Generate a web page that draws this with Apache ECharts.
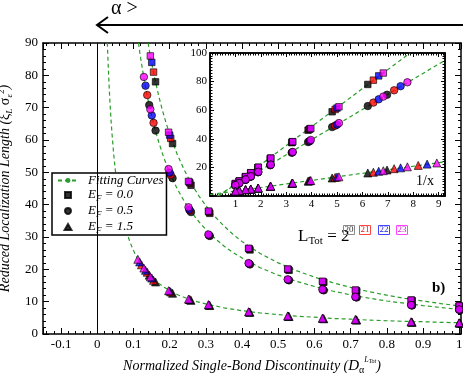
<!DOCTYPE html>
<html>
<head>
<meta charset="utf-8">
<script src="https://cdn.jsdelivr.net/npm/echarts@6/dist/echarts.min.js"></script>
<style>
html, body { margin: 0; padding: 0; background: #fff; }
#chart { width: 463px; height: 379px; }
</style>
</head>
<body>
<div id="chart"></div>
<script>
// bond discontinuity D for each system size L_Tot = 2^20 .. 2^23
var D20 = [null, 0.1435, 0.161, 0.208, 0.259, 0.311, 0.422, 0.530, 0.626, 0.717, 0.870, 1.003];
var D21 = [0.122, 0.138, 0.1555, 0.203, 0.256, 0.309, 0.420, 0.528, 0.624, 0.715, 0.869, 1.0];
var D22 = [0.117, 0.1333, 0.1506, 0.200, 0.254, 0.308, 0.419, 0.527, 0.623, 0.714, 0.868, 1.0];
var D23 = [0.112, 0.1287, 0.1466, 0.197, 0.252, 0.307, 0.418, 0.526, 0.622, 0.713, 0.867, 1.0];

// E_F = 0.0 (squares)
var sq20 = [null, null, 78.0, 58.9, 46.0, 37.3, 26.0, 19.7, 16.0, 13.3, 10.3, 8.5];
var sq21 = [null, null, 81.0, 60.5, 46.7, 37.7, 26.3, 19.9, 16.1, 13.4, 10.4, 8.6];
var sq22 = [null, null, 84.0, 61.5, 47.0, 37.9, 26.4, 20.0, 16.2, 13.5, 10.4, 8.6];
var sq23 = [null, null, 86.0, 62.4, 47.2, 38.0, 26.5, 20.1, 16.3, 13.6, 10.5, 8.7];
// E_F = 0.5 (circles)
var ci20 = [null, 70.8, 62.9, 48.2, 37.7, 30.3, 21.5, 16.6, 13.5, 11.3, 8.8, 7.4];
var ci21 = [null, 73.9, 65.3, 49.2, 38.2, 30.5, 21.7, 16.7, 13.6, 11.4, 8.9, 7.5];
var ci22 = [null, 76.8, 67.6, 49.9, 38.5, 30.6, 21.8, 16.8, 13.7, 11.4, 8.9, 7.5];
var ci23 = [null, 79.5, 69.5, 51.0, 39.2, 30.8, 21.9, 16.9, 13.8, 11.5, 9.0, 7.6];
// E_F = 1.5 (triangles)
var tr20 = [null, 18.2, 16.1, 12.6, 10.4, 8.8, 6.7, 5.4, 4.7, 4.3, 3.6, 3.3];
var tr21 = [21.4, 19.1, 16.6, 13.0, 10.6, 8.9, 6.8, 5.5, 4.8, 4.4, 3.7, 3.4];
var tr22 = [22.3, 19.7, 17.3, 13.3, 10.7, 9.0, 6.8, 5.5, 4.8, 4.4, 3.7, 3.4];
var tr23 = [23.1, 20.4, 17.7, 13.4, 10.8, 9.1, 6.9, 5.6, 4.9, 4.5, 3.8, 3.5];

// fitting curves
var fitSqD = [0.1404, 0.145, 0.15, 0.155, 0.16, 0.17, 0.18, 0.19, 0.2, 0.22, 0.24, 0.26, 0.28, 0.3, 0.325, 0.35, 0.375, 0.4, 0.45, 0.5, 0.55, 0.6, 0.65, 0.7, 0.75, 0.8, 0.85, 0.9, 0.95, 1.0, 1.005];
var fitSqY = [90.0, 87.0, 84.0, 81.1, 78.4, 73.5, 69.2, 65.3, 61.8, 55.8, 50.8, 46.5, 42.8, 39.7, 36.3, 33.4, 30.8, 28.6, 24.9, 22.0, 19.6, 17.6, 15.9, 14.4, 13.1, 12.0, 11.0, 10.2, 9.4, 8.7, 8.63];
var fitCiD = [0.1138, 0.117, 0.12, 0.125, 0.13, 0.135, 0.14, 0.15, 0.16, 0.17, 0.18, 0.19, 0.2, 0.22, 0.24, 0.26, 0.28, 0.3, 0.325, 0.35, 0.375, 0.4, 0.45, 0.5, 0.55, 0.6, 0.65, 0.7, 0.75, 0.8, 0.85, 0.9, 0.95, 1.0, 1.005];
var fitCiY = [90.0, 87.4, 85.2, 81.7, 78.4, 75.4, 72.6, 67.6, 63.1, 59.3, 55.8, 52.7, 49.9, 45.1, 41.1, 37.7, 34.8, 32.3, 29.6, 27.2, 25.2, 23.5, 20.5, 18.2, 16.3, 14.7, 13.3, 12.1, 11.1, 10.2, 9.5, 8.8, 8.2, 7.6, 7.55];
var fitTrD = [0.0278, 0.029, 0.03, 0.0325, 0.035, 0.0375, 0.04, 0.045, 0.05, 0.055, 0.06, 0.065, 0.07, 0.075, 0.08, 0.09, 0.1, 0.11, 0.12, 0.13, 0.14, 0.15, 0.16, 0.18, 0.2, 0.225, 0.25, 0.275, 0.3, 0.35, 0.4, 0.45, 0.5, 0.55, 0.6, 0.65, 0.7, 0.75, 0.8, 0.85, 0.9, 0.95, 1.0, 1.005];
var fitTrY = [90.1, 86.4, 83.5, 77.2, 71.7, 67.0, 62.9, 56.0, 50.5, 46.0, 42.3, 39.1, 36.4, 34.0, 32.0, 28.5, 25.8, 23.5, 21.7, 20.1, 18.7, 17.5, 16.5, 14.8, 13.4, 12.0, 10.9, 10.0, 9.3, 8.1, 7.2, 6.5, 6.0, 5.5, 5.2, 4.8, 4.6, 4.3, 4.1, 3.9, 3.8, 3.6, 3.5, 3.49];

// inset fitting lines (vs 1/x)
var inFitSqX = [0.345, 7.875], inFitSqY = [0, 100];
var inFitCiX = [0.282, 9.25], inFitCiY = [0, 94.9];
var inFitTrX = [0, 9.25], inFitTrY = [1.03, 23.9];

var SERIF = '"Liberation Serif", "DejaVu Serif", serif';
var GREEN = '#2a9d2a';

var chart = echarts.init(document.getElementById('chart'));

function pairs(xs, ys, inv) {
	var out = [];
	for (var i = 0; i < xs.length; i++) {
		if (xs[i] == null || ys[i] == null) continue;
		out.push([inv ? 1 / xs[i] : xs[i], ys[i]]);
	}
	return out;
}

function axis(o) {
	var base = {
		type: 'value',
		axisLine: { show: true, onZero: false, lineStyle: { color: '#000', width: 1.5 } },
		axisTick: { show: true, inside: true, length: 6, lineStyle: { color: '#000', width: 1 } },
		minorTick: { show: true, splitNumber: 5, length: 3, lineStyle: { color: '#000', width: 1 } },
		splitLine: { show: false },
		axisLabel: { show: true, color: '#000', fontFamily: SERIF, fontSize: 13, margin: 5, showMinLabel: true, showMaxLabel: true }
	};
	for (var k in o) {
		if (typeof o[k] === 'object' && base[k] && !Array.isArray(o[k])) {
			for (var j in o[k]) base[k][j] = o[k][j];
		} else base[k] = o[k];
	}
	return base;
}

var subRich = {
	i: { fontFamily: SERIF, fontSize: 14, fontStyle: 'italic', color: '#000' },
	g: { fontFamily: SERIF, fontSize: 14, fontStyle: 'normal', color: '#000' },
	s: { fontFamily: SERIF, fontSize: 9, fontStyle: 'italic', color: '#000', padding: [8, 0, 0, 0] },
	sg: { fontFamily: SERIF, fontSize: 10, fontStyle: 'normal', color: '#000', padding: [8, 0, 0, 0] },
	p: { fontFamily: SERIF, fontSize: 9, fontStyle: 'normal', color: '#000', padding: [0, 0, 8, 0] },
	pi: { fontFamily: SERIF, fontSize: 8, fontStyle: 'italic', color: '#000', padding: [0, 0, 12, 0] },
	pq: { fontFamily: SERIF, fontSize: 6, fontStyle: 'italic', color: '#000', padding: [0, 0, 8, 0] },
	d: { fontFamily: SERIF, fontSize: 15, fontStyle: 'italic', color: '#000' }
};

var xAxes = [
	axis({ gridIndex: 0, min: -0.15, max: 1.005, splitNumber: 11, position: 'bottom',
		axisLabel: { showMinLabel: false, showMaxLabel: false, margin: 4 },
		name: '{i|Normalized Single-Bond Discontinuity (}{d|D}{sg|α}{pi|L}{pq|Tot}{i|)}',
		nameLocation: 'middle', nameGap: 18, nameTextStyle: { rich: subRich } }),
	axis({ gridIndex: 0, min: -0.15, max: 1.005, splitNumber: 11, position: 'top', axisLabel: { show: false } }),
	axis({ gridIndex: 1, min: 0, max: 9.25, interval: 1, position: 'bottom',
		axisTick: { length: 4 }, minorTick: { splitNumber: 10, length: 2.5 },
		axisLabel: { showMinLabel: false, showMaxLabel: false, fontSize: 11, margin: 3 } }),
	axis({ gridIndex: 1, min: 0, max: 9.25, interval: 1, position: 'top',
		axisTick: { length: 4 }, minorTick: { splitNumber: 10, length: 2.5 }, axisLabel: { show: false } })
];
var yAxes = [
	axis({ gridIndex: 0, min: 0, max: 90, interval: 10, position: 'left',
		name: '{i|Reduced Localization Length (}{g|ξ}{s|L}{g| σ}{s|ε}{p|2}{i|)}',
		nameLocation: 'middle', nameGap: 24, nameTextStyle: { rich: subRich } }),
	axis({ gridIndex: 0, min: 0, max: 90, interval: 10, position: 'right', axisLabel: { show: false } }),
	axis({ gridIndex: 1, min: 0, max: 100, interval: 20, position: 'left',
		axisTick: { length: 4 }, minorTick: { splitNumber: 10, length: 2.5 },
		axisLabel: { showMinLabel: false, fontSize: 11, margin: 3 } }),
	axis({ gridIndex: 1, min: 0, max: 100, interval: 20, position: 'right',
		axisTick: { length: 4 }, minorTick: { splitNumber: 10, length: 2.5 }, axisLabel: { show: false } })
];

function fitLine(name, data, xi, yi) {
	return {
		name: name, type: 'line', xAxisIndex: xi, yAxisIndex: yi, data: data,
		symbol: 'none', smooth: false, silent: true,
		lineStyle: { color: GREEN, width: 1.2, type: [4, 3] },
		itemStyle: { color: GREEN }, z: 2
	};
}

var series = [
	fitLine('Fitting Curves', pairs(fitSqD, fitSqY), 0, 0),
	fitLine('Fitting Curves', pairs(fitCiD, fitCiY), 0, 0),
	fitLine('Fitting Curves', pairs(fitTrD, fitTrY), 0, 0),
	fitLine('fitInset', pairs(inFitSqX, inFitSqY), 2, 2),
	fitLine('fitInset', pairs(inFitCiX, inFitCiY), 2, 2),
	fitLine('fitInset', pairs(inFitTrX, inFitTrY), 2, 2)
];
series[0].markLine = {
	silent: true, symbol: ['none', 'none'], label: { show: false },
	lineStyle: { color: '#000', type: 'solid', width: 1 },
	data: [{ xAxis: 0 }]
};

var sizes = [['L20', D20, '#000000'], ['L21', D21, '#ff0000'], ['L22', D22, '#0000ff'], ['L23', D23, '#ff00ff']];
var groups = [
	{ key: 'ef00', sym: 'rect', size: 6.5, ys: [sq20, sq21, sq22, sq23] },
	{ key: 'ef05', sym: 'circle', size: 7.5, ys: [ci20, ci21, ci22, ci23] },
	{ key: 'ef15', sym: 'triangle', size: 8, ys: [tr20, tr21, tr22, tr23] }
];
groups.forEach(function (g) {
	sizes.forEach(function (L, k) {
		var style = { color: L[2], borderColor: '#000', borderWidth: 0.8 };
		series.push({
			name: k === 0 ? g.key : g.key + L[0], type: 'scatter', xAxisIndex: 0, yAxisIndex: 0,
			symbol: g.sym, symbolSize: g.size, symbolKeepAspect: true,
			data: pairs(L[1], g.ys[k]), itemStyle: style, z: 3
		});
		series.push({
			name: g.key + L[0] + 'in', type: 'scatter', xAxisIndex: 2, yAxisIndex: 2,
			symbol: g.sym, symbolSize: g.size, data: pairs(L[1], g.ys[k], true), itemStyle: style, z: 3
		});
	});
});

var legendText = { ef00: ' = 0.0', ef05: ' = 0.5', ef15: ' = 1.5' };

var option = {
	backgroundColor: '#fff',
	animation: false,
	grid: [
		{ left: 43, top: 43, right: 2, bottom: 45, containLabel: false, outerBoundsMode: 'none' },
		{ left: 210, top: 53, width: 235, height: 143, containLabel: false, outerBoundsMode: 'none',
			show: true, backgroundColor: '#fff', borderColor: '#000', borderWidth: 1.5 }
	],
	xAxis: xAxes,
	yAxis: yAxes,
	legend: {
		data: [
			{ name: 'Fitting Curves' },
			{ name: 'ef00', icon: 'path://M7,0L14,0L14,7L7,7Z' },
			{ name: 'ef05', icon: 'path://M10.5,0A3.5,3.5,0,1,1,10.49,0Z' },
			{ name: 'ef15', icon: 'path://M10.5,0L14.5,7L6.5,7Z' }
		],
		orient: 'vertical', left: 52, top: 173,
		backgroundColor: '#fff', borderColor: '#000', borderWidth: 1.5, borderRadius: 0,
		padding: [1, 3, 0, 5], itemGap: 0, itemWidth: 20, itemHeight: 6,
		symbolKeepAspect: true,
		selectedMode: false,
		formatter: function (name) {
			if (name === 'Fitting Curves') return '{h|Fitting Curves}';
			return '{h|E}{s|F}{i|' + legendText[name] + '}';
		},
		textStyle: {
			color: '#000', fontFamily: SERIF, fontSize: 13, fontStyle: 'italic',
			rich: {
				h: { fontFamily: SERIF, fontSize: 13, fontStyle: 'italic', lineHeight: 16, padding: [0, 0, 0, 5] },
				i: { fontFamily: SERIF, fontSize: 13, fontStyle: 'italic', lineHeight: 16 },
				s: { fontFamily: SERIF, fontSize: 9, fontStyle: 'italic', lineHeight: 9, padding: [7, 0, 0, 0] }
			}
		}
	},
	graphic: [
		{ type: 'line', shape: { x1: 463, y1: 25, x2: 98, y2: 25 }, style: { stroke: '#000', lineWidth: 2 } },
		{ type: 'polyline', shape: { points: [[108, 17], [97, 25], [108, 33]] }, style: { stroke: '#000', lineWidth: 2, fill: null } },
		{ type: 'text', left: 111, top: -1, style: { text: 'α >', fill: '#000', font: '20px ' + SERIF } },
		{ type: 'text', left: 298, top: 228, style: {
			text: '{a|L}{b|Tot}{a| = 2}', fill: '#000',
			rich: {
				a: { fontFamily: SERIF, fontSize: 17, color: '#000' },
				b: { fontFamily: SERIF, fontSize: 11, color: '#000', padding: [9, 0, 0, 0] }
			}
		} },
		{ type: 'text', left: 343, top: 225, style: { text: '20', fill: '#333', font: '9px ' + SERIF, borderColor: '#888', borderWidth: 1, padding: [0, 1, 0, 1] } },
		{ type: 'text', left: 359, top: 225, style: { text: '21', fill: '#d22', font: '9px ' + SERIF, borderColor: '#f44', borderWidth: 1, padding: [0, 1, 0, 1] } },
		{ type: 'text', left: 378, top: 225, style: { text: '22', fill: '#22d', font: '9px ' + SERIF, borderColor: '#44f', borderWidth: 1, padding: [0, 1, 0, 1] } },
		{ type: 'text', left: 396, top: 225, style: { text: '23', fill: '#c2c', font: '9px ' + SERIF, borderColor: '#f4f', borderWidth: 1, padding: [0, 1, 0, 1] } },
		{ type: 'text', left: 432, top: 281, style: { text: 'b)', fill: '#000', font: 'bold 15px ' + SERIF } },
		{ type: 'text', left: 416, top: 174, style: { text: '1/x', fill: '#000', font: '14px ' + SERIF } }
	],
	series: series
};

chart.setOption(option);
window.onresize = function () {
	chart.resize();
};
</script>
</body>
</html>
